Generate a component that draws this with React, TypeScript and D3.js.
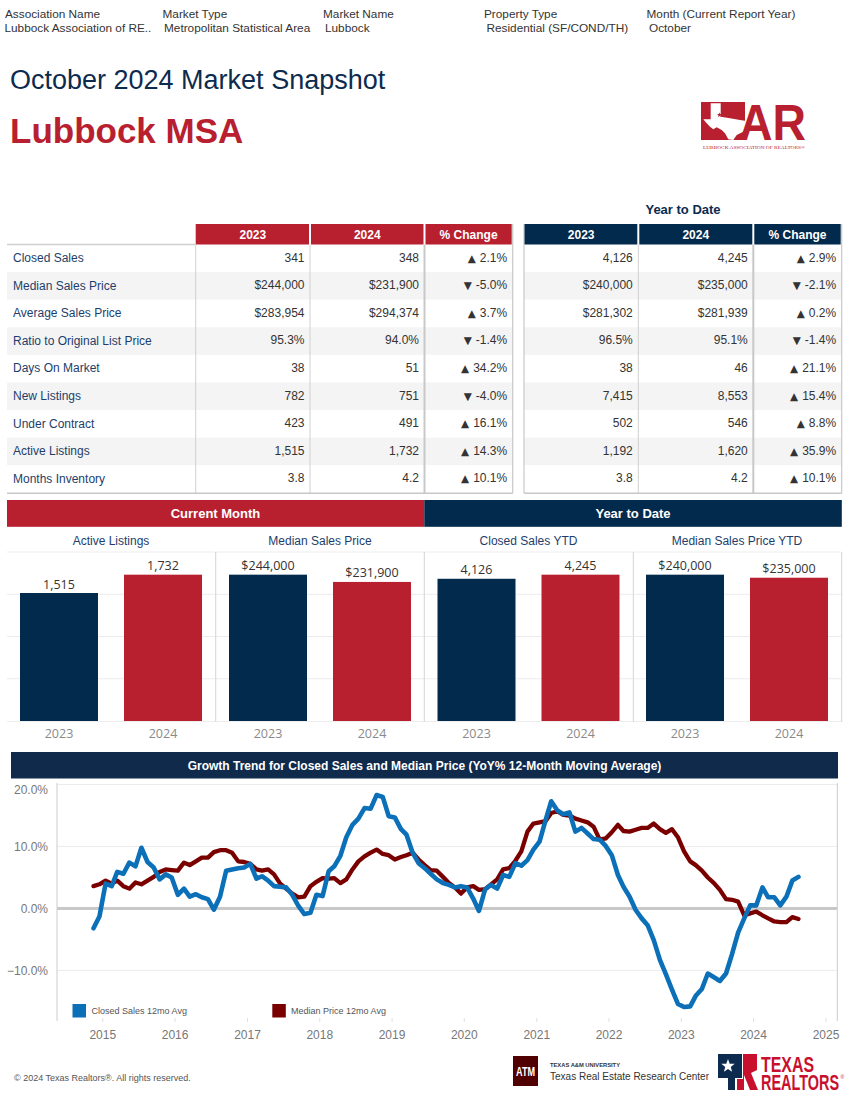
import React from "react";
import * as d3 from "d3";

// ---------- DATA ----------
const headerLabels = ["Association Name", "Market Type", "Market Name", "Property Type", "Month (Current Report Year)"];
const headerValues = ["Lubbock Association of RE..", "Metropolitan Statistical Area", "Lubbock", "Residential (SF/COND/TH)", "October"];

const metricNames = [
  "Closed Sales",
  "Median Sales Price",
  "Average Sales Price",
  "Ratio to Original List Price",
  "Days On Market",
  "New Listings",
  "Under Contract",
  "Active Listings",
  "Months Inventory",
];
const tableHeads = ["2023", "2024", "% Change"];
const month2023 = ["341", "$244,000", "$283,954", "95.3%", "38", "782", "423", "1,515", "3.8"];
const month2024 = ["348", "$231,900", "$294,374", "94.0%", "51", "751", "491", "1,732", "4.2"];
const monthPct = [2.1, -5.0, 3.7, -1.4, 34.2, -4.0, 16.1, 14.3, 10.1];
const ytd2023 = ["4,126", "$240,000", "$281,302", "96.5%", "38", "7,415", "502", "1,192", "3.8"];
const ytd2024 = ["4,245", "$235,000", "$281,939", "95.1%", "46", "8,553", "546", "1,620", "4.2"];
const ytdPct = [2.9, -2.1, 0.2, -1.4, 21.1, 15.4, 8.8, 35.9, 10.1];

const barYears = ["2023", "2024"];
const barTitles = ["Active Listings", "Median Sales Price", "Closed Sales YTD", "Median Sales Price YTD"];
const activeListings = [1515, 1732];
const medianSalesPrice = [244000, 231900];
const closedSalesYTD = [4126, 4245];
const medianSalesPriceYTD = [240000, 235000];
const barIsMoney = [false, true, false, true];

// monthly, starting Nov 2014
const trendStartYear = 2014;
const trendStartMonth = 10; // November (0-based)
const closedSales12mo = [
  -3.2, -1.3, 4.0, 3.6, 5.9, 5.6, 7.4, 6.8, 9.8, 7.5, 6.6, 4.7, 5.5, 5.0, 2.2, 3.2, 1.9, 2.3, 1.8, 1.5,
  -0.2, 1.9, 6.1, 6.3, 6.5, 6.6, 7.2, 4.8, 5.2, 4.5, 3.6, 3.5, 3.4, 2.2, 0.4, -0.9, -0.7, 2.2, 2.0, 6.0,
  6.8, 8.5, 11.5, 13.5, 14.5, 16.2, 16.1, 18.3, 18.0, 14.9, 14.7, 12.8, 11.9, 9.0, 7.3, 6.5, 5.6, 4.7, 4.1, 3.8,
  3.4, 3.6, 3.4, 1.6, -0.4, 3.1, 3.8, 3.2, 5.4, 5.1, 7.3, 6.9, 7.8, 9.5, 10.8, 14.3, 17.3, 15.8, 15.2, 15.5,
  12.4, 13.0, 12.1, 11.2, 11.1, 10.1, 8.6, 5.4, 3.5, 1.9, -0.2, -1.6, -2.7, -5.1, -8.3, -10.6, -13.1, -15.4, -15.9, -15.8,
  -14.1, -13.0, -10.5, -11.1, -11.7, -10.5, -7.3, -3.9, -1.6, 0.5, 0.5, 3.4, 1.8, 1.8, 0.5, 1.9, 4.5, 5.1,
];
const medianPrice12mo = [
  3.6, 3.9, 4.5, 4.0, 4.5, 3.6, 3.2, 4.2, 3.9, 4.5, 5.1, 5.9, 6.3, 6.2, 6.1, 7.4, 7.0, 7.6, 8.2, 8.2,
  9.1, 9.4, 9.4, 9.0, 7.6, 7.5, 7.2, 6.3, 6.1, 6.3, 5.5, 4.0, 3.2, 2.4, 1.8, 1.9, 3.6, 4.3, 4.9, 4.8,
  4.9, 4.1, 4.7, 6.3, 7.6, 8.4, 9.0, 9.5, 8.8, 8.6, 7.9, 8.3, 8.6, 9.0, 7.9, 7.0, 6.2, 6.1, 5.1, 4.1,
  3.4, 2.4, 3.4, 3.6, 3.0, 3.1, 3.9, 4.7, 6.3, 6.5, 7.7, 9.2, 12.4, 13.7, 13.9, 14.1, 15.4, 15.7, 15.1, 15.0,
  14.5, 14.2, 13.9, 13.2, 11.1, 11.3, 12.3, 13.5, 12.5, 12.4, 12.7, 13.0, 13.0, 13.7, 12.8, 12.2, 12.8, 11.5, 9.2, 7.6,
  7.0, 6.1, 5.0, 4.1, 3.0, 1.5, 1.4, 1.1, -1.1, -0.8, -0.5, -1.1, -1.6, -2.1, -2.2, -2.2, -1.4, -1.7,
];
const yTickValues = [20, 10, 0, -10];
const xTickYears = [2015, 2016, 2017, 2018, 2019, 2020, 2021, 2022, 2023, 2024, 2025];
const legendItems = ["Closed Sales 12mo Avg", "Median Price 12mo Avg"];

// ---------- STYLE ----------
const ARIAL = "'Liberation Sans', Arial, Helvetica, sans-serif";
const TAB = "'Open Sans', 'Noto Sans', sans-serif";
const RED = "#b8202f";
const NAVY = "#0c2b4e";
const LABEL_NAVY = "#1d3e6b";
const BLUE_LINE = "#0b70b8";
const RED_LINE = "#7a0000";

// approximate Arial advance widths (em) for the percent strings
const charW: Record<string, number> = { ".": 0.278, "%": 0.889, "-": 0.333, " ": 0.278 };
function arialWidth(s: string, size: number) {
  let w = 0;
  for (const c of s) w += charW[c] !== undefined ? charW[c] : 0.556;
  return w * size;
}

function PctText({ x, y, v }: { x: number; y: number; v: number }) {
  const num = `${v.toFixed(1)}%`;
  const w = arialWidth(num, 12);
  return (
    <g>
      <text x={x - w - 4} y={y} textAnchor="end" fontFamily="'DejaVu Sans', sans-serif" fontSize={10.5} fill="#333">{v >= 0 ? "▲" : "▼"}</text>
      <text x={x} y={y} textAnchor="end" fontFamily={ARIAL} fontSize={12} fill="#333">{num}</text>
    </g>
  );
}

function Table({
  cols, heads, headFill, c1, c2, c3, withLabels,
}: {
  cols: number[]; heads: string[]; headFill: string; c1: string[]; c2: string[]; c3: number[]; withLabels: boolean;
}) {
  const top = 244.5;
  const rh = 27.6;
  const left = withLabels ? 7 : cols[0];
  const right = cols[3];
  return (
    <g>
      {metricNames.map((m, i) => (
        <rect key={"bg" + i} x={left} y={top + i * rh} width={right - left} height={rh} fill={i % 2 === 1 ? "#f4f4f4" : "#ffffff"} />
      ))}
      {heads.map((h, j) => (
        <g key={"h" + j}>
          <rect x={cols[j] + (j === 0 ? 0 : 1)} y={224} width={cols[j + 1] - cols[j] - (j === 0 ? 1 : 2)} height={20.5} fill={headFill} />
          <text x={(cols[j] + cols[j + 1]) / 2} y={238.5} textAnchor="middle" fontFamily={ARIAL} fontWeight="bold" fontSize={12} fill="#fff">{h}</text>
        </g>
      ))}
      {withLabels && <line x1={7} x2={cols[0]} y1={top} y2={top} stroke="#d0d0d0" strokeWidth={1.5} />}
      {!withLabels && <line x1={cols[0]} x2={cols[0]} y1={224} y2={493.3} stroke="#c8c8c8" strokeWidth={1.2} />}
      {[cols[0], cols[1]].map((cx, j) => (withLabels || j > 0) ? (
        <line key={"v" + j} x1={cx} x2={cx} y1={top} y2={493.3} stroke="#d0d0d0" strokeWidth={1} />
      ) : null)}
      <line x1={cols[2]} x2={cols[2]} y1={top} y2={493.3} stroke="#c8c8c8" strokeWidth={2} />
      <line x1={cols[3]} x2={cols[3]} y1={224} y2={493.3} stroke="#c8c8c8" strokeWidth={1.2} />
      <line x1={left} x2={right} y1={493.3} y2={493.3} stroke="#c8c8c8" strokeWidth={1.5} />
      {metricNames.map((m, i) => {
        const by = top + i * rh + 17;
        return (
          <g key={"r" + i} fontFamily={ARIAL} fontSize={12}>
            {withLabels && <text x={13} y={by + 0.5} fill={LABEL_NAVY}>{m}</text>}
            <text x={cols[1] - 5.5} y={by} textAnchor="end" fill="#333">{c1[i]}</text>
            <text x={cols[2] - 5.5} y={by} textAnchor="end" fill="#333">{c2[i]}</text>
            <PctText x={cols[3] - 5.5} y={by} v={c3[i]} />
          </g>
        );
      })}
    </g>
  );
}

function BarPanel({ x0, x1, title, values, money }: { x0: number; x1: number; title: string; values: number[]; money: boolean }) {
  const xs = d3.scaleBand<string>().domain(barYears).range([x0, x1]).paddingInner(0.25).paddingOuter(0.125);
  const maxV = d3.max(values) as number;
  const ys = d3.scaleLinear().domain([0, maxV * 1.155]).range([721, 552]);
  const grid = d3.range(1, 5).map((k) => (k * ys.domain()[1]) / 4);
  const fmt = (v: number) => (money ? "$" : "") + d3.format(",")(v);
  return (
    <g>
      <text x={(x0 + x1) / 2} y={545} textAnchor="middle" fontFamily={ARIAL} fontSize={12} fill={LABEL_NAVY}>{title}</text>
      {grid.map((g, k) => (
        <line key={k} x1={x0} x2={x1} y1={ys(g)} y2={ys(g)} stroke="#ececec" strokeWidth={1} />
      ))}
      <line x1={x0} x2={x1} y1={721.5} y2={721.5} stroke="#eeeeee" strokeWidth={1} />
      {values.map((v, i) => (
        <g key={i}>
          <rect x={xs(barYears[i])} y={ys(v)} width={xs.bandwidth()} height={ys(0) - ys(v)} fill={i === 0 ? "#022a4d" : RED} />
          <text x={(xs(barYears[i]) as number) + xs.bandwidth() / 2} y={ys(v) - 4.5} textAnchor="middle" fontFamily={TAB} fontSize={12.5} fill="#333">{fmt(v)}</text>
          <text x={(xs(barYears[i]) as number) + xs.bandwidth() / 2} y={738} textAnchor="middle" fontFamily={TAB} fontSize={12.5} fill="#8a8a8a">{barYears[i]}</text>
        </g>
      ))}
    </g>
  );
}

function TrendChart() {
  const dates = closedSales12mo.map((_, i) => new Date(Date.UTC(trendStartYear, trendStartMonth + i, 15)));
  const x = d3.scaleUtc().domain([new Date(Date.UTC(2015, 0, 1)), new Date(Date.UTC(2025, 0, 1))]).range([102.8, 826]);
  const y = d3.scaleLinear().domain([-18, 20.2]).range([1020, 783.3]);
  const line = d3
    .line<number>()
    .x((_, i) => x(dates[i]))
    .y((d) => y(d));
  const fmtY = (v: number) => d3.format(".1f")(v) + "%";
  return (
    <g>
      <rect x={11} y={752} width={827} height={26.5} fill="#102a4c" />
      <text x={424.5} y={769.5} textAnchor="middle" fontFamily={ARIAL} fontWeight="bold" fontSize={12} fill="#fff">
        Growth Trend for Closed Sales and Median Price (YoY% 12-Month Moving Average)
      </text>
      {yTickValues.filter((v) => v !== 0).map((v) => (
        <line key={v} x1={57} x2={837} y1={y(v)} y2={y(v)} stroke="#ececec" strokeWidth={1} />
      ))}
      <line x1={57} x2={837} y1={y(0)} y2={y(0)} stroke="#c8c8c8" strokeWidth={3} />
      <line x1={57} x2={57} y1={783} y2={1021} stroke="#cccccc" strokeWidth={1} />
      <line x1={837.3} x2={837.3} y1={783} y2={1021} stroke="#cccccc" strokeWidth={1} />
      {yTickValues.map((v) => (
        <text key={v} x={48} y={Math.max(y(v) + 4.3, 793.5)} textAnchor="end" fontFamily={ARIAL} fontSize={12} fill="#777">{fmtY(v)}</text>
      ))}
      {xTickYears.map((yr) => {
        const tx = x(new Date(Date.UTC(yr, 0, 1)));
        return (
          <g key={yr}>
            <line x1={tx} x2={tx} y1={1018} y2={1022} stroke="#e0e0e0" strokeWidth={1} />
            <text x={tx} y={1039} textAnchor="middle" fontFamily={ARIAL} fontSize={12} fill="#777">{yr}</text>
          </g>
        );
      })}
      <path d={line(medianPrice12mo) as string} fill="none" stroke={RED_LINE} strokeWidth={4.3} strokeLinejoin="round" strokeLinecap="round" />
      <path d={line(closedSales12mo) as string} fill="none" stroke={BLUE_LINE} strokeWidth={4.6} strokeLinejoin="round" strokeLinecap="round" />
      {legendItems.map((t, i) => (
        <g key={t}>
          <rect x={i === 0 ? 72.5 : 272.3} y={1004} width={13.5} height={13.5} fill={i === 0 ? BLUE_LINE : RED_LINE} />
          <text x={i === 0 ? 91.5 : 291} y={1014} fontFamily={ARIAL} fontSize={9} fill="#555">{t}</text>
        </g>
      ))}
    </g>
  );
}

function LarLogo() {
  const texas = [
    [710.7, 103.3], [720.7, 103.3], [720.7, 116.7], [730, 118.3], [740, 120], [745, 120.7], [746, 128.3],
    [743.3, 131.7], [736.7, 135], [733.3, 140], [728.3, 139.3], [725, 133.3], [721.7, 130], [716.7, 127.3],
    [713.3, 129.3], [710, 126.7], [706.7, 123.3], [703.3, 119.3], [710.7, 119.3],
  ];
  const star = d3.range(10).map((k) => {
    const a = (Math.PI / 5) * k - Math.PI / 2;
    const r = k % 2 === 0 ? 2.6 : 1.1;
    return [719.5 + r * Math.cos(a), 115 + r * Math.sin(a)];
  });
  return (
    <g>
      <rect x={701} y={102} width={44} height={38} fill={RED} />
      <polygon points={texas.map((p) => p.join(",")).join(" ")} fill="#fff" />
      <polygon points={star.map((p) => p.join(",")).join(" ")} fill={RED} />
      <text transform="translate(739,140) scale(1,1.45)" x={0} y={0} fontFamily={ARIAL} fontWeight="bold" fontSize={34} fill={RED} textLength={67} lengthAdjust="spacingAndGlyphs">AR</text>
      <text x={703} y={148.5} fontFamily="'Liberation Serif', serif" fontSize={4.5} fill={RED} textLength={102} lengthAdjust="spacingAndGlyphs">LUBBOCK ASSOCIATION OF REALTORS®</text>
    </g>
  );
}

function FooterLogos() {
  const star = d3.range(10).map((k) => {
    const a = (Math.PI / 5) * k - Math.PI / 2;
    const r = k % 2 === 0 ? 7 : 2.9;
    return [728 + r * Math.cos(a), 1066 + r * Math.sin(a)];
  });
  return (
    <g>
      <text x={14} y={1081} fontFamily={ARIAL} fontSize={9} fill="#555">© 2024 Texas Realtors®. All rights reserved.</text>
      <rect x={513} y={1056} width={25} height={30} fill="#500000" />
      <text x={525.5} y={1076} textAnchor="middle" fontFamily={ARIAL} fontWeight="bold" fontSize={12} fill="#fff" textLength={19} lengthAdjust="spacingAndGlyphs">ATM</text>
      <text x={550} y={1067} fontFamily={ARIAL} fontWeight="bold" fontSize={5} fill="#333" textLength={70} lengthAdjust="spacingAndGlyphs">TEXAS A&amp;M UNIVERSITY</text>
      <text x={550} y={1080} fontFamily={ARIAL} fontSize={11} fill="#333" textLength={159} lengthAdjust="spacingAndGlyphs">Texas Real Estate Research Center</text>
      <polygon points="718,1054 742,1054 742,1078 735,1078 735,1090 728,1090 728,1078 718,1078" fill="#0c2b4e" />
      <polygon points={star.map((p) => p.join(",")).join(" ")} fill="#fff" />
      <polygon points="743,1054 757,1054 757,1070 751,1073 758,1090 750,1090 744,1075 744,1090 737,1090 737,1079 743,1079" fill="#c8102e" />
      <text transform="translate(761,1071.5) scale(1,1.4)" x={0} y={0} fontFamily={ARIAL} fontWeight="bold" fontSize={15.5} fill="#c8102e" textLength={53} lengthAdjust="spacingAndGlyphs">TEXAS</text>
      <text transform="translate(761,1090) scale(1,1.6)" x={0} y={0} fontFamily={ARIAL} fontWeight="bold" fontSize={14} fill="#c8102e" textLength={78} lengthAdjust="spacingAndGlyphs">REALTORS</text>
      <text x={840.5} y={1079} fontFamily={ARIAL} fontSize={5} fill="#c8102e">®</text>
    </g>
  );
}

export default function App() {
  const headerX = [5, 162.5, 323, 484, 646.5];
  const valueX = [4.5, 164, 325, 486.5, 649];
  const barPanels = [
    { x0: 7, x1: 215, values: activeListings },
    { x0: 216, x1: 424, values: medianSalesPrice },
    { x0: 424.5, x1: 632.5, values: closedSalesYTD },
    { x0: 633, x1: 841, values: medianSalesPriceYTD },
  ];
  return (
    <svg width={850} height={1100} viewBox="0 0 850 1100" style={{ position: "absolute", left: 0, top: 0, background: "#fff" }}>
      <rect x={0} y={0} width={850} height={1100} fill="#fff" />
      {headerLabels.map((t, i) => (
        <text key={"hl" + i} x={headerX[i]} y={18} fontFamily={ARIAL} fontSize={11.8} fill="#333">{t}</text>
      ))}
      {headerValues.map((t, i) => (
        <text key={"hv" + i} x={valueX[i]} y={32} fontFamily={ARIAL} fontSize={11.8} fill="#333">{t}</text>
      ))}
      <text x={10} y={89} fontFamily={ARIAL} fontSize={27} fill={NAVY}>October 2024 Market Snapshot</text>
      <text x={10} y={143} fontFamily={ARIAL} fontWeight="bold" fontSize={35} fill={RED}>Lubbock MSA</text>
      <LarLogo />

      <text x={683} y={214} textAnchor="middle" fontFamily={ARIAL} fontWeight="bold" fontSize={13} fill={NAVY}>Year to Date</text>
      <Table cols={[195.7, 310, 424.5, 512.7]} heads={tableHeads} headFill={RED} c1={month2023} c2={month2024} c3={monthPct} withLabels={true} />
      <Table cols={[524, 638.3, 753.3, 841.7]} heads={tableHeads} headFill="#022a4d" c1={ytd2023} c2={ytd2024} c3={ytdPct} withLabels={false} />

      <rect x={7} y={500} width={417.3} height={26.8} fill={RED} />
      <text x={215.5} y={518} textAnchor="middle" fontFamily={ARIAL} fontWeight="bold" fontSize={13} fill="#fff">Current Month</text>
      <rect x={424.3} y={500} width={417.5} height={26.8} fill="#022a4d" />
      <text x={633} y={518} textAnchor="middle" fontFamily={ARIAL} fontWeight="bold" fontSize={13} fill="#fff">Year to Date</text>
      {barPanels.map((p, i) => (
        <BarPanel key={i} x0={p.x0} x1={p.x1} title={barTitles[i]} values={p.values} money={barIsMoney[i]} />
      ))}
      {[215.7, 424.3, 633.3, 841.7].map((vx) => (
        <line key={vx} x1={vx} x2={vx} y1={552} y2={722} stroke="#d4d4d4" strokeWidth={1} />
      ))}

      <TrendChart />
      <FooterLogos />
    </svg>
  );
}
